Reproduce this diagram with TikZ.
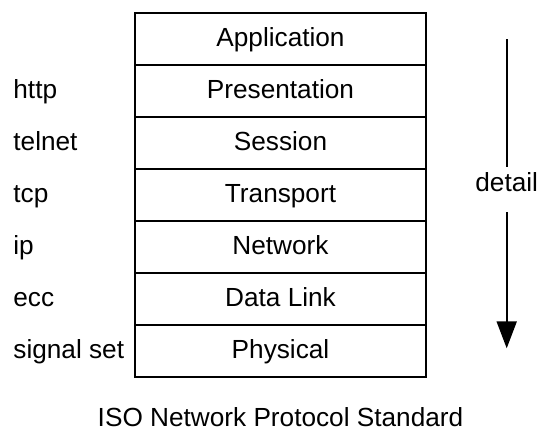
\documentclass[tikz,border=0pt]{standalone}
\usepackage{fontspec}
\setmainfont{Liberation Sans}
\usetikzlibrary{arrows.meta,positioning}

\begin{document}
\begin{tikzpicture}[x=0.5pt,y=-0.5pt,font=\fontsize{13.1}{15}\selectfont,
          capa/.style={draw,line width=1.2pt,minimum width=145.5pt,minimum height=26pt,
                       outer sep=0pt,text height=9.5pt,text depth=1.5pt},
          proto/.style={anchor=base west,inner sep=0pt},
          node distance=0pt]
        \useasboundingbox (0,0) rectangle (540,429);
        \node[capa] (app) at (280.5,38.7) {Application};
        \node[capa,below=of app] (pres) {Presentation};
        \node[capa,below=of pres] (sess) {Session};
        \node[capa,below=of sess] (trans) {Transport};
        \node[capa,below=of trans] (net) {Network};
        \node[capa,below=of net] (link) {Data Link};
        \node[capa,below=of link] (phys) {Physical};
        % protocolos a la izquierda, sobre la misma linea base que cada capa
        \coordinate (lft) at (13,0);
        \node[proto] (http) at (lft|-pres.base) {http};
        \node[proto] (telnet) at (lft|-sess.base) {telnet};
        \node[proto] (tcp) at (lft|-trans.base) {tcp};
        \node[proto] (ip) at (lft|-net.base) {ip};
        \node[proto] (ecc) at (lft|-link.base) {ecc};
        \node[proto] (sigset) at (lft|-phys.base) {signal set};
        % flecha de detalle
        \coordinate (top) at (506.7,39);
        \coordinate (tip) at (506.7,348.3);
        \node[anchor=base,inner sep=0pt] (detail) at (506.7,191.7) {detail};
        \draw[line width=1pt,shorten >=2.5pt] (top) -- (detail);
        \draw[line width=1pt,shorten <=10pt,-{Triangle[length=13.5pt,width=10pt]}] (detail) -- (tip);
        \node[anchor=base] (caption) at ([yshift=-24.9pt]phys.south) {ISO Network Protocol Standard};
      \end{tikzpicture}
\end{document}
